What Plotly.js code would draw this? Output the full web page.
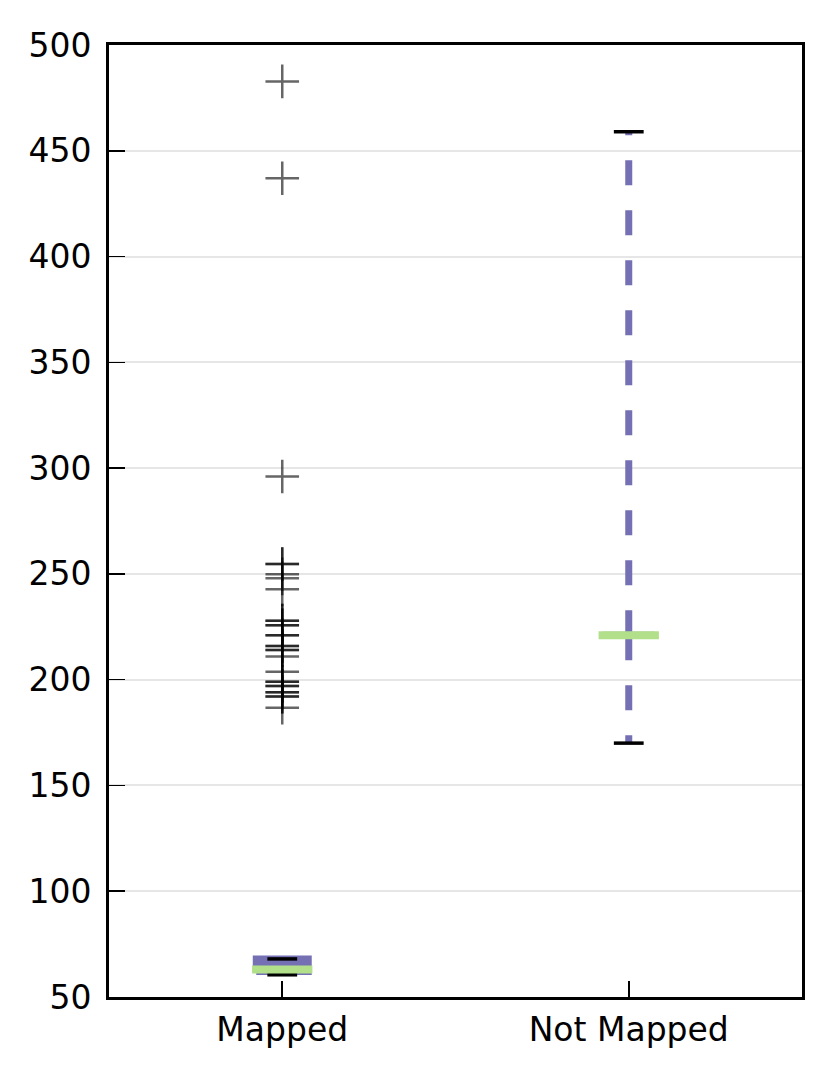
<!DOCTYPE html>
<html>
<head>
<meta charset="utf-8">
<script src="https://cdn.plot.ly/plotly-3.0.1.min.js"></script>
<style>
  html, body { margin: 0; padding: 0; background: #fff; }
  #chart { width: 831px; height: 1076px; }
</style>
</head>
<body>
<div id="chart"></div>
<script>
// box summary per category
const categories = ['Mapped', 'Not Mapped'];
const positions = [1, 2];
const whiskerLow = [60.5, 170];
const q1 = [62, 221];
const median = [63, 221];
const q3 = [68, 221];
const whiskerHigh = [68, 459];

// fliers of the "Mapped" group (dark rows = repeated values)
const mappedOutliers = [
  482.8, 437, 296, 254.7, 254.7, 249.8, 247.9, 242.7,
  227.9, 227.9, 225.7, 225.7, 221.0, 221.0, 215.9, 215.9,
  214.0, 214.0, 210.9, 203.8, 199.0, 199.0, 197.0, 197.0,
  194.0, 194.0, 192.0, 192.0, 186.7
];

const yTicks = [50, 100, 150, 200, 250, 300, 350, 400, 450, 500];

// styles
const PURPLE = '#7570b3';
const GREEN = '#b2df8a';
const BOX_HALF = 0.075;
const MED_HALF = 0.087;
const CAP_HALF = 0.043;
const FONT = "'DejaVu Sans', sans-serif";

const traces = [];

// boxes
positions.forEach((p, i) => {
  traces.push({
    x: [p - BOX_HALF, p + BOX_HALF, p + BOX_HALF, p - BOX_HALF, p - BOX_HALF],
    y: [q1[i], q1[i], q3[i], q3[i], q1[i]],
    type: 'scatter',
    mode: 'lines',
    fill: 'toself',
    fillcolor: PURPLE,
    line: { color: PURPLE, width: 7 },
    hoverinfo: 'skip'
  });
});

// whiskers: one trace per side so each dash pattern starts at the box
positions.forEach((p, i) => {
  [[q3[i], whiskerHigh[i]], [q1[i], whiskerLow[i]]].forEach(seg => {
    traces.push({
      x: [p, p],
      y: seg,
      type: 'scatter',
      mode: 'lines',
      line: { color: PURPLE, width: 7, dash: '25px,25px' },
      hoverinfo: 'skip'
    });
  });
});

// caps
const capX = [], capY = [];
positions.forEach((p, i) => {
  [whiskerHigh[i], whiskerLow[i]].forEach(v => {
    capX.push(p - CAP_HALF, p + CAP_HALF, null);
    capY.push(v, v, null);
  });
});
traces.push({
  x: capX, y: capY, type: 'scatter', mode: 'lines',
  line: { color: '#000', width: 3.5 }, hoverinfo: 'skip'
});

// medians
const medX = [], medY = [];
positions.forEach((p, i) => {
  medX.push(p - MED_HALF, p + MED_HALF, null);
  medY.push(median[i], median[i], null);
});
traces.push({
  x: medX, y: medY, type: 'scatter', mode: 'lines',
  line: { color: GREEN, width: 8 }, hoverinfo: 'skip'
});

// fliers
traces.push({
  x: mappedOutliers.map(() => positions[0]),
  y: mappedOutliers,
  type: 'scatter',
  mode: 'markers',
  marker: {
    symbol: 'cross-thin',
    size: 24,
    color: 'rgba(0,0,0,0.6)',
    line: { color: 'rgba(0,0,0,0.6)', width: 2.5 }
  },
  hoverinfo: 'y'
});

const layout = {
  width: 831,
  height: 1076,
  margin: { l: 109, r: 29, t: 45, b: 79 },
  paper_bgcolor: '#fff',
  plot_bgcolor: '#fff',
  showlegend: false,
  font: { family: FONT, size: 33, color: '#000' },
  xaxis: {
    range: [0.5, 2.5],
    tickvals: positions,
    ticktext: categories,
    ticks: 'inside',
    ticklen: 16,
    tickwidth: 2,
    tickcolor: '#000',
    showgrid: false,
    zeroline: false,
    showline: true,
    linecolor: '#000',
    linewidth: 3,
    mirror: true,
    ticklabelstandoff: 1,
    tickfont: { family: FONT, size: 33, color: '#000' }
  },
  yaxis: {
    range: [50, 500],
    tickvals: yTicks,
    ticks: 'inside',
    ticklen: 16,
    tickwidth: 1.5,
    tickcolor: '#000',
    showgrid: true,
    gridcolor: '#e6e6e6',
    gridwidth: 2,
    zeroline: false,
    showline: true,
    linecolor: '#000',
    linewidth: 3,
    mirror: true,
    ticklabelstandoff: 8,
    tickfont: { family: FONT, size: 33, color: '#000' }
  }
};

Plotly.newPlot('chart', traces, layout, { staticPlot: true });
</script>
</body>
</html>
